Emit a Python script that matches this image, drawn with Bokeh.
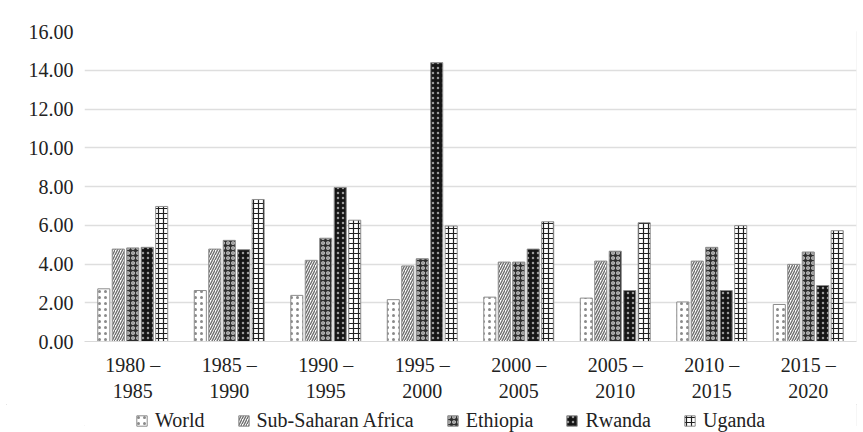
from bokeh.plotting import figure
from bokeh.layouts import column
from bokeh.models import (FactorRange, Legend, LegendItem, SingleIntervalTicker,
                          NumeralTickFormatter, ColumnDataSource, Range1d)
from bokeh.transform import dodge
from bokeh.embed import file_html
from bokeh.resources import INLINE

periods = ["1980 –\n1985", "1985 –\n1990", "1990 –\n1995", "1995 –\n2000",
           "2000 –\n2005", "2005 –\n2010", "2010 –\n2015", "2015 –\n2020"]
world = [2.72, 2.63, 2.38, 2.16, 2.29, 2.24, 2.04, 1.91]
ssa = [4.77, 4.77, 4.19, 3.90, 4.10, 4.15, 4.15, 3.98]
ethiopia = [4.83, 5.22, 5.33, 4.27, 4.10, 4.66, 4.86, 4.62]
rwanda = [4.86, 4.74, 7.95, 14.39, 4.77, 2.63, 2.63, 2.89]
uganda = [6.97, 7.33, 6.26, 5.96, 6.18, 6.13, 5.98, 5.72]
series_names = ["World", "Sub-Saharan Africa", "Ethiopia", "Rwanda", "Uganda"]

src = ColumnDataSource(dict(x=periods, world=world, ssa=ssa, ethiopia=ethiopia,
                            rwanda=rwanda, uganda=uganda))

FONT = "Liberation Serif"

p = figure(x_range=FactorRange(factors=periods, range_padding=0), y_range=(0, 16),
           width=863, height=404, output_backend="svg", toolbar_location=None,
           min_border_left=84, min_border_right=7, min_border_top=31, min_border_bottom=0,
           background_fill_color="white", border_fill_color="white")
p.outline_line_color = None

styles = [
    dict(fill_color="white", hatch_pattern="dot", hatch_color="#8a8a8a", hatch_scale=6, hatch_weight=1.2),
    dict(fill_color="white", hatch_pattern="right_diagonal_line", hatch_color="#6e6e6e", hatch_scale=5, hatch_weight=1.4),
    dict(fill_color="#2e2e2e", hatch_pattern="ring", hatch_color="#e0e0e0", hatch_scale=5, hatch_weight=1.2),
    dict(fill_color="#151515", hatch_pattern="dot", hatch_color="#9a9a9a", hatch_scale=5, hatch_weight=1.2),
    dict(fill_color="white", hatch_pattern="cross", hatch_color="#202020", hatch_scale=5, hatch_weight=1.2),
]
cols = ["world", "ssa", "ethiopia", "rwanda", "uganda"]
offsets = [-0.3, -0.15, 0.0, 0.15, 0.3]

for col, off, st in zip(cols, offsets, styles):
    p.vbar(x=dodge("x", off, range=p.x_range), top=col, width=0.125, source=src,
           line_color="#8c8c8c", line_width=1, **st)

p.yaxis.ticker = SingleIntervalTicker(interval=2)
p.yaxis.formatter = NumeralTickFormatter(format="0.00")
p.yaxis.axis_line_color = None
p.yaxis.major_tick_line_color = None
p.yaxis.minor_tick_line_color = None
p.yaxis.major_label_standoff = 5
p.xaxis.axis_line_color = "#d9d9d9"
p.xaxis.major_tick_line_color = None
p.xaxis.minor_tick_line_color = None
p.xaxis.major_label_standoff = 6
for ax in (p.xaxis, p.yaxis):
    ax.major_label_text_font = FONT
    ax.major_label_text_font_size = "20px"
    ax.major_label_text_color = "#222222"
p.xgrid.grid_line_color = None
p.ygrid.grid_line_color = "#dedede"
p.ygrid.grid_line_width = 1.5

# legend strip (swatch renderers sit outside the visible range; only the legend shows)
lg = figure(width=863, height=28, output_backend="svg", toolbar_location=None,
            x_range=Range1d(0, 1), y_range=Range1d(0, 1),
            x_axis_type=None, y_axis_type=None,
            min_border_left=0, min_border_right=0, min_border_top=0, min_border_bottom=0,
            background_fill_color="white", border_fill_color="white")
lg.outline_line_color = None
lg.xgrid.grid_line_color = None
lg.ygrid.grid_line_color = None
items = []
for name, st in zip(series_names, styles):
    r = lg.vbar(x=[0.5], top=[-5], bottom=[-6], width=0.1, line_color="#8c8c8c", line_width=1, **st)
    items.append(LegendItem(label=name, renderers=[r]))

legend = Legend(items=items, orientation="horizontal", location=(51, 0),
                label_text_font=FONT, label_text_font_size="20px", label_text_color="#222222",
                glyph_width=13, glyph_height=13, label_height=18, spacing=32, label_standoff=7,
                border_line_color=None, background_fill_alpha=0, padding=0, margin=0)
lg.add_layout(legend, "center")

layout = column(p, lg, spacing=0,
                styles={"outline": "1px solid #dcdcdc", "outline-offset": "-7px"})
open("out.html", "w").write(file_html(layout, INLINE))
